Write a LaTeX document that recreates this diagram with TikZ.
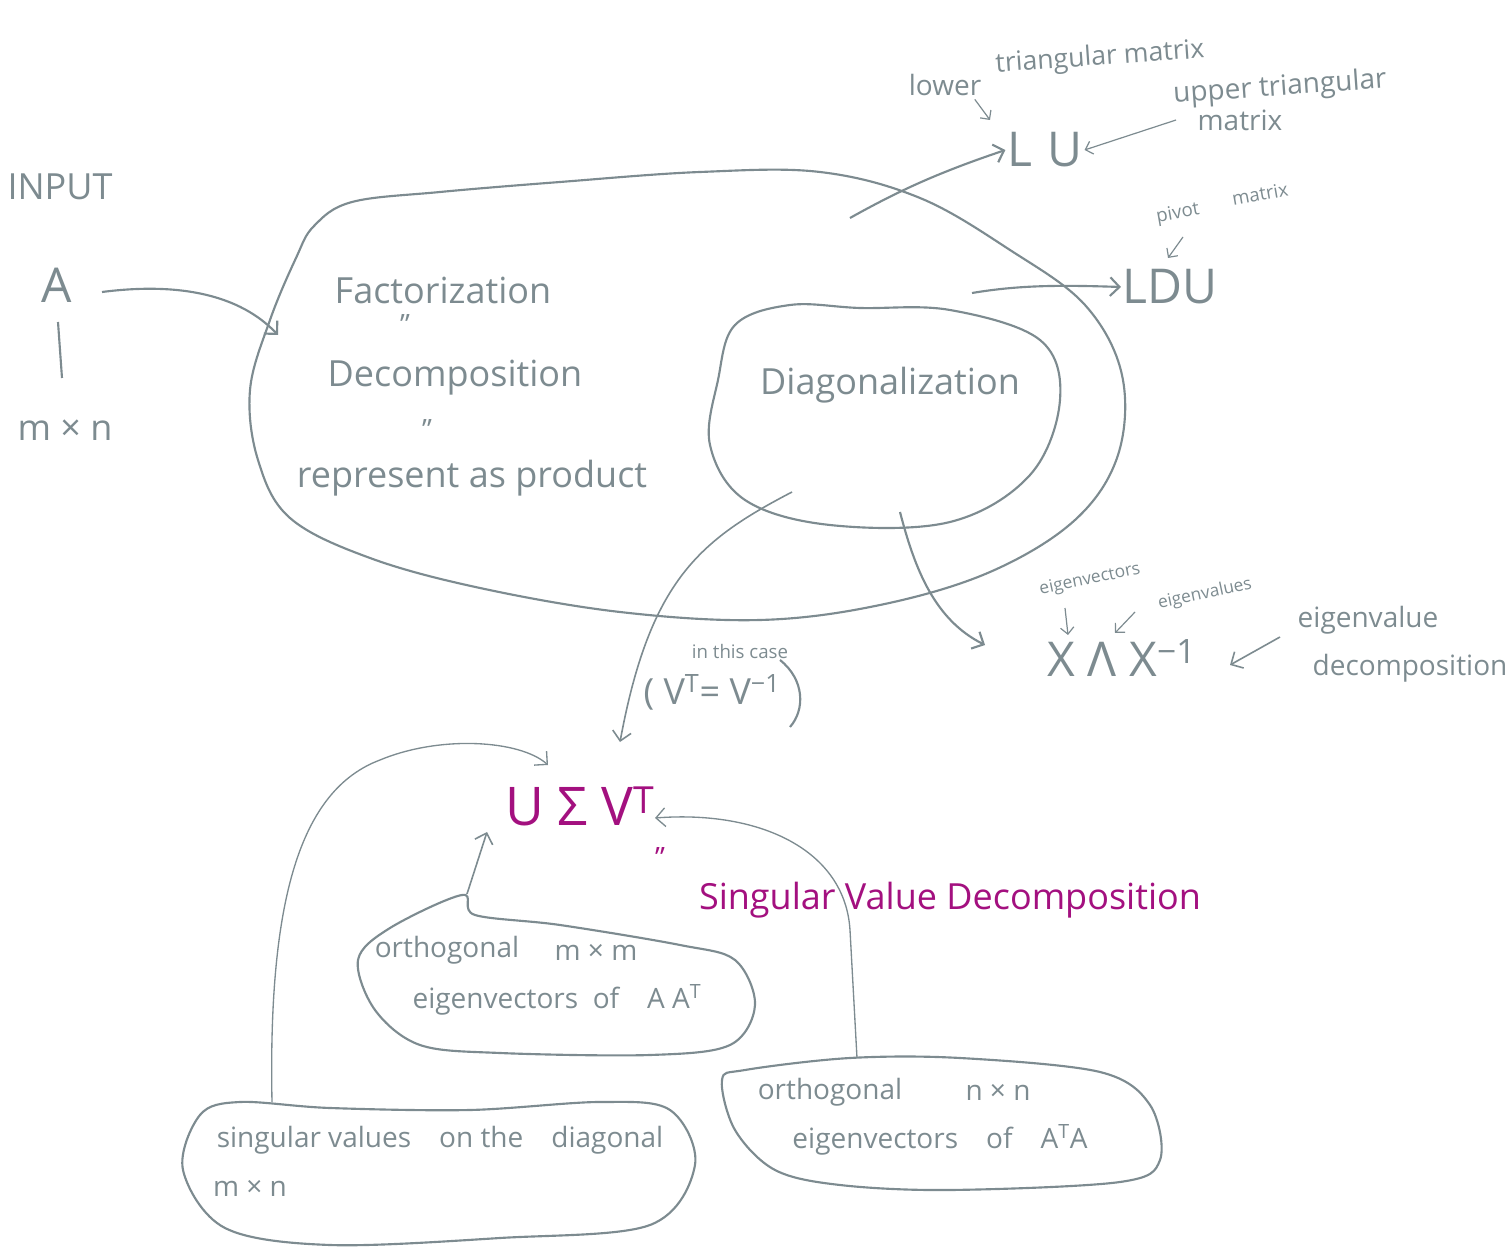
\documentclass[tikz,border=0pt]{standalone}
\usepackage{fontspec}
\setmainfont{Open Sans}
\usetikzlibrary{arrows.meta}
\definecolor{ink}{HTML}{7D8B90}
\definecolor{pink}{HTML}{A3107F}
\begin{document}
\begin{tikzpicture}[x=0.75pt,y=-0.75pt,
  every node/.style={text=ink, inner sep=1pt},
  blob/.style={draw=ink, line width=1.6pt, line join=round},
  conn/.style={draw=ink, line width=1.6pt, -{Straight Barb[length=7pt,width=14pt]}},
  thin/.style={draw=ink, line width=0.9pt, -{Straight Barb[length=5pt,width=10pt]}},
  big/.style={font=\fontsize{36}{40}\selectfont},
  med/.style={font=\fontsize{27}{30}\selectfont},
  mid/.style={font=\fontsize{21}{24}\selectfont},
  sml/.style={font=\fontsize{14}{16}\selectfont},
  svd/.style={text=pink},
]
\useasboundingbox (0,0) rectangle (1511,1251);

% ---------- input ----------
\node[med] (input) at (60,187) {INPUT};
\node[big] (A) at (57,285) {A};
\coordinate (bar1) at (58,322);
\coordinate (bar2) at (62,378);
\draw[ink, line width=1.6pt] (bar1) -- (bar2);
\node[med] (mn) at (65,430) {m × n};

% ---------- big blob ----------
\draw[blob] plot[smooth cycle, tension=0.6] coordinates {
 (352,202) (440,192) (560,182) (700,172) (820,172) (920,198) (1010,250)
 (1085,305) (1122,375) (1118,455) (1075,520) (990,572) (880,605) (760,620)
 (620,612) (480,588) (370,558) (290,518) (258,460) (250,390) (270,320) (296,258) (314,226)};
\node[med] (fact) at (443,290) {Factorization};
\node[mid] (eq1) at (405,325) {''};
\node[med] (decomp) at (455,378) {Decomposition};
\node[mid] (eq2) at (427,430) {''};
\node[med] (repr) at (472,478) {represent as product};

% ---------- inner blob ----------
\draw[blob] plot[smooth cycle, tension=0.6] coordinates {
 (790,305) (735,325) (718,380) (710,445) (745,500) (830,525) (950,522)
 (1030,475) (1060,400) (1040,340) (950,310) (860,308)};
\node[med] (diag) at (890,385) {Diagonalization};

% input arrow
\coordinate (inA) at (102,292);
\coordinate (inB) at (278,335);
\draw[conn] (inA) .. controls (180,282) and (240,295) .. (inB);

% ---------- LU ----------
\node[big] (LU) at (1045,150) {L\,\,U};
\node[mid] (lower) at (945,85) {lower};
\node[font=\fontsize{20}{23}\selectfont, rotate=4] (tri) at (1100,58) {triangular matrix};
\node[mid, rotate=4] (upper) at (1280,88) {upper triangular};
\node[mid] (umat) at (1240,120) {matrix};
\coordinate (luS) at (850,218);
\draw[conn] (luS) .. controls (900,190) and (940,172) .. (LU.west);
\draw[thin] (lower.south east) ++(-8,2) -- (990,120);
\draw[thin] (umat.west) ++(-20,0) -- (LU.east);

% ---------- LDU ----------
\node[big] (LDU) at (1170,287) {LDU};
\node[sml, rotate=10] (pivot) at (1178,214) {pivot};
\node[sml, rotate=10] (pmat) at (1260,194) {matrix};
\coordinate (ldS) at (972,293);
\draw[conn] (ldS) .. controls (1020,285) and (1060,285) .. (LDU.west);
\draw[thin] (1183,237) -- (1168,258);

% ---------- X Lambda X^-1 ----------
\node[big] (XLX) at (1122,658) {X Λ X\textsuperscript{−1}};
\node[font=\fontsize{13}{15}\selectfont, rotate=12] (evec) at (1090,580) {eigenvectors};
\node[font=\fontsize{13}{15}\selectfont, rotate=12] (evals) at (1205,594) {eigenvalues};
\node[mid] (evd1) at (1368,620) {eigenvalue};
\node[mid] (evd2) at (1410,668) {decomposition};
\coordinate (xlS) at (900,512);
\coordinate (xlE) at (985,645);
\draw[conn] (xlS) .. controls (915,570) and (935,620) .. (xlE);
\draw[thin] (1065,608) -- (1068,635);
\draw[thin] (1135,612) -- (1115,633);
\coordinate (evdA) at (1280,637);
\draw[conn, line width=1.2pt] (evdA) -- (1230,665);

% ---------- SVD ----------
\node[font=\fontsize{40}{44}\selectfont, svd] (USV) at (580,806) {U Σ V\textsuperscript{T}};
\node[mid, svd] (eq3) at (660,858) {''};
\node[font=\fontsize{27}{30}\selectfont, svd] (svdname) at (950,900) {Singular Value Decomposition};
\node[sml] (case) at (740,652) {in this case};
\node[med] (vt) at (712,692) {( V\textsuperscript{T}= V\textsuperscript{−1}};
\coordinate (rp1) at (780,660);
\coordinate (rp2) at (790,727);
\draw[ink, line width=1.6pt] (rp1) .. controls (805,680) and (805,710) .. (rp2);
\coordinate (svS) at (792,492);
\coordinate (svE) at (620,742);
\draw[conn, line width=1.2pt] (svS) .. controls (700,540) and (650,580) .. (svE);

% ---------- bottom blobs ----------
\draw[blob] plot[smooth cycle, tension=0.55] coordinates {
 (462,895) (475,915) (560,925) (680,945) (735,960) (755,1005) (730,1045)
 (650,1055) (500,1053) (420,1045) (375,1010) (358,960) (390,928)};
\node[mid] (orth1) at (447,950) {orthogonal};
\node[mid] (mm) at (596,952) {m × m};
\node[mid] (ev1) at (557,1000) {eigenvectors\ \ of\quad A A\textsuperscript{T}};
\coordinate (b1top) at (467,894);
\draw[conn, line width=1.2pt] (b1top) -- (487,832);

\draw[blob] plot[smooth cycle, tension=0.55] coordinates {
 (200,1115) (240,1102) (330,1108) (470,1110) (600,1102) (670,1110)
 (695,1165) (650,1225) (500,1238) (330,1245) (225,1228) (183,1170)};
\node[mid] (sv) at (440,1140) {singular values\quad on the\quad diagonal};
\node[mid] (mn2) at (250,1188) {m × n};
\coordinate (b3top) at (272,1102);
\draw[conn, line width=1.0pt] (b3top) .. controls (268,900) and (300,790) .. (380,760) .. controls (440,735) and (520,740) .. (548,765);

\draw[blob] plot[smooth cycle, tension=0.55] coordinates {
 (745,1070) (850,1058) (960,1058) (1100,1072) (1150,1105) (1160,1160)
 (1120,1182) (950,1190) (840,1185) (775,1170) (735,1130) (722,1080)};
\node[mid] (orth2) at (830,1092) {orthogonal};
\node[mid] (nn) at (998,1092) {n × n};
\node[mid] (ev2) at (940,1140) {eigenvectors\quad of\quad A\textsuperscript{T}A};
\coordinate (b4top) at (857,1058);
\draw[conn, line width=1.0pt] (b4top) -- (850,930) .. controls (845,850) and (760,810) .. (655,818);
\end{tikzpicture}
\end{document}
